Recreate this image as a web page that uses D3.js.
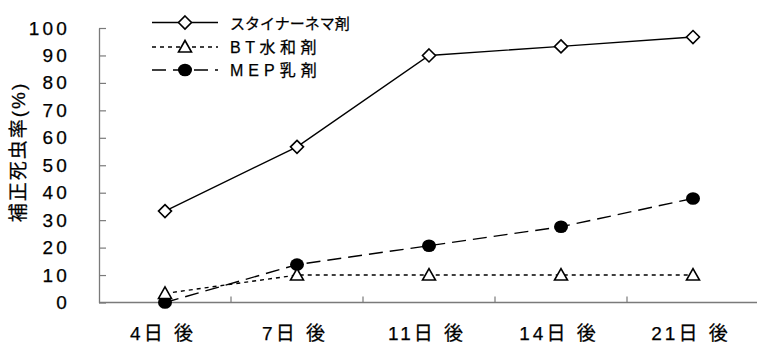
<!DOCTYPE html>
<html>
<head>
<meta charset="utf-8">
<script src="https://cdn.jsdelivr.net/npm/d3@7"></script>
<style>
  html, body { margin: 0; padding: 0; background: #fff; }
  svg { display: block; }
  text { font-family: "Liberation Sans", "Noto Sans CJK JP", sans-serif; fill: #000; stroke: #000; stroke-width: 0.25; }
</style>
</head>
<body>
<svg id="chart" width="757" height="342"></svg>
<script>
// Days after treatment
const categories = ["4日 後", "7日 後", "11日 後", "14日 後", "21日 後"];
// Corrected mortality (%) per treatment
const steinernema = [33.3, 56.7, 90.0, 93.3, 96.7];
const btWettable = [3.3, 10.0, 10.0, 10.0, 10.0];
const mepEmulsion = [0.0, 13.8, 20.7, 27.6, 37.9];
const seriesNames = ["スタイナーネマ剤", "BT水和剤", "MEP乳剤"];
const yTicks = [0, 10, 20, 30, 40, 50, 60, 70, 80, 90, 100];

const svg = d3.select("#chart");
const left = 99, bandW = 132;
const x = d3.scaleBand().domain(categories).range([left, left + bandW * categories.length]).padding(0);
const y = d3.scaleLinear().domain([0, 100]).range([302.5, 28]);
const cx = d => x(d) + x.bandwidth() / 2;

const axisColor = "#7a7a7a";

// Y axis: ticks point into the plot
const yAxis = svg.append("g")
  .attr("transform", `translate(${left},0)`)
  .call(d3.axisLeft(y).tickValues(yTicks).tickSizeInner(-7).tickSizeOuter(0).tickPadding(29));
yAxis.select(".domain").attr("stroke", axisColor).attr("stroke-width", 1.3);
yAxis.selectAll(".tick line").attr("stroke", axisColor).attr("stroke-width", 1.2);
yAxis.selectAll(".tick text")
  .attr("font-size", 19).attr("letter-spacing", 3.2).attr("fill", "#000")
  .attr("font-family", "'Liberation Sans', sans-serif");

// X axis: baseline with upward ticks at category boundaries
const xAxis = svg.append("g").attr("transform", `translate(0,${y(0)})`);
xAxis.append("line")
  .attr("x1", left).attr("x2", left + bandW * categories.length)
  .attr("stroke", axisColor).attr("stroke-width", 1.3);
xAxis.selectAll("line.tk").data(categories.slice(1)).join("line")
  .attr("class", "tk")
  .attr("x1", d => x(d)).attr("x2", d => x(d))
  .attr("y1", 0).attr("y2", -6)
  .attr("stroke", axisColor).attr("stroke-width", 1.2);
xAxis.selectAll("text").data(categories).join("text")
  .attr("x", d => cx(d) - 2).attr("y", 37)
  .attr("text-anchor", "middle")
  .attr("font-size", 19).attr("letter-spacing", 3)
  .text(d => d);

// Y axis title
svg.append("text")
  .attr("transform", "translate(25,152) rotate(-90)")
  .attr("text-anchor", "middle")
  .attr("font-size", 19).attr("letter-spacing", 2)
  .text("補正死虫率(%)");

const line = d3.line().x((d, i) => cx(categories[i])).y(d => y(d));

const specs = [
  { name: seriesNames[0], data: steinernema, dash: null, marker: "diamond",
    font: "'Noto Sans CJK JP', sans-serif", size: 15, spacing: 0 },
  { name: seriesNames[1], data: btWettable, dash: "4,4", marker: "triangle",
    font: "'Liberation Sans', 'Noto Sans CJK JP', sans-serif", size: 16, spacing: 4.5 },
  { name: seriesNames[2], data: mepEmulsion, dash: "14,7", marker: "circle",
    font: "'Liberation Sans', 'Noto Sans CJK JP', sans-serif", size: 16, spacing: 5 }
];

function drawMarker(g, type, px, py) {
  if (type === "diamond") {
    g.append("path")
      .attr("d", `M${px},${py - 6.5}L${px + 6.5},${py}L${px},${py + 6.5}L${px - 6.5},${py}Z`)
      .attr("fill", "#fff").attr("stroke", "#000").attr("stroke-width", 1.6);
  } else if (type === "triangle") {
    g.append("path")
      .attr("d", `M${px},${py - 6.5}L${px + 6.5},${py + 5}L${px - 6.5},${py + 5}Z`)
      .attr("fill", "#fff").attr("stroke", "#000").attr("stroke-width", 1.6);
  } else {
    g.append("ellipse")
      .attr("cx", px).attr("cy", py).attr("rx", 7).attr("ry", 6.3)
      .attr("fill", "#000");
  }
}

// Series: draw lines, then markers on top
const plot = svg.append("g");
specs.slice().reverse().forEach(s => {
  plot.append("path")
    .attr("d", line(s.data))
    .attr("fill", "none").attr("stroke", "#000").attr("stroke-width", 1.4)
    .attr("stroke-dasharray", s.dash);
});
specs.slice().reverse().forEach(s => {
  const g = plot.append("g");
  s.data.forEach((v, i) => drawMarker(g, s.marker, cx(categories[i]), y(v)));
});

// Legend
const legend = svg.append("g");
const rowY = [22.5, 47, 70];
specs.forEach((s, i) => {
  const g = legend.append("g");
  g.append("line")
    .attr("x1", 152).attr("x2", 218).attr("y1", rowY[i]).attr("y2", rowY[i])
    .attr("stroke", "#000").attr("stroke-width", 1.4)
    .attr("stroke-dasharray", s.dash);
  drawMarker(g, s.marker, 185, rowY[i]);
  g.append("text")
    .attr("x", 230).attr("y", rowY[i] + 6)
    .attr("font-size", s.size).attr("letter-spacing", s.spacing)
    .attr("font-family", s.font)
    .text(s.name);
});
</script>
</body>
</html>
